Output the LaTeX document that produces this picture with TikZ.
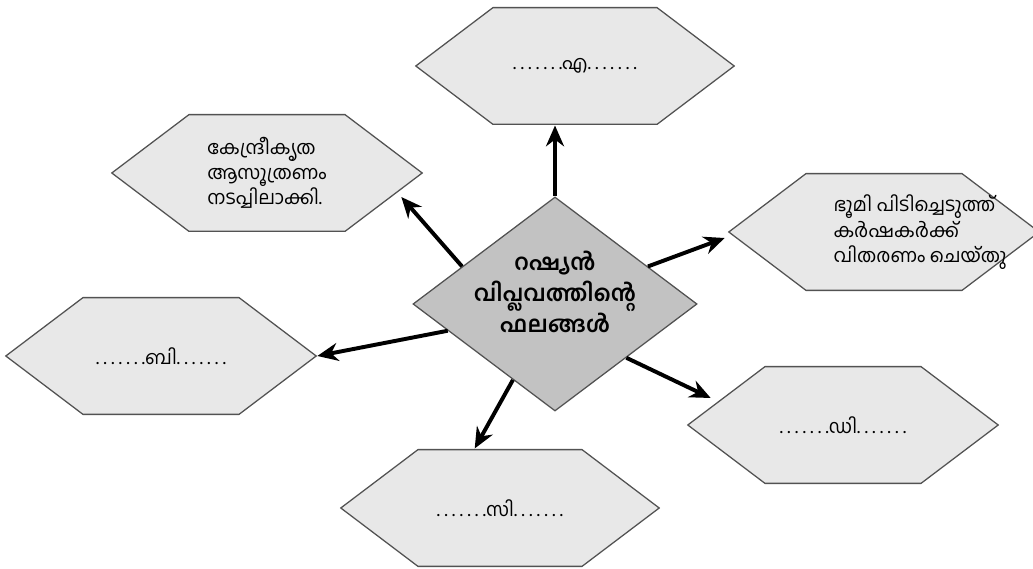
\documentclass[tikz,border=0pt]{standalone}
\usepackage{fontspec}
\usepackage{tikz}
\usepackage{xcolor}
\usetikzlibrary{shapes.geometric,arrows.meta}
\newfontfamily\malfont[Script=Malayalam]{Hind Kochi}
\definecolor{hexfill}{gray}{0.91}
\definecolor{diafill}{gray}{0.76}
\definecolor{edgegray}{gray}{0.32}
\newcommand{\dotrun}{.\kern3.2pt.\kern3.2pt.\kern3.2pt.\kern3.2pt.\kern3.2pt.\kern3.2pt.}
\tikzset{
	hexbox/.style={rectangle, inner sep=0pt, minimum width=7.8cm, minimum height=2.96cm,
		font=\malfont\fontsize{13.5}{17.8}\selectfont,
		path picture={
			\draw[draw=edgegray, fill=hexfill, line width=0.9pt]
				([xshift=0.6pt]path picture bounding box.west)
				-- ([shift={(1.95cm,-0.6pt)}]path picture bounding box.north west)
				-- ([shift={(-1.95cm,-0.6pt)}]path picture bounding box.north east)
				-- ([xshift=-0.6pt]path picture bounding box.east)
				-- ([shift={(-1.95cm,0.6pt)}]path picture bounding box.south east)
				-- ([shift={(1.95cm,0.6pt)}]path picture bounding box.south west)
				-- cycle;
		}},
	dotlbl/.style={font=\malfont\fontsize{13.5}{16}\selectfont},
	centerbox/.style={diamond, draw=edgegray, fill=diafill, line width=0.9pt, inner sep=-12pt,
		aspect=1.33, minimum width=7.1cm, minimum height=5.35cm, align=center,
		font=\malfont\bfseries\fontsize{16}{22}\selectfont},
	arr/.style={line width=2.8pt, -{Stealth[length=0.52cm,width=0.45cm]}}
}
\begin{document}
\begin{tikzpicture}[x=0.025cm, y=-0.025cm]
	\useasboundingbox (0,0) rectangle (1033,569);
	\node[centerbox] (res) at (555,304) {റഷ്യൻ\\വിപ്ലവത്തിന്റെ\\ഫലങ്ങൾ\\[-5pt]\mbox{}};
	\foreach \name/\x/\y/\hw/\lbl in {ea/575/66/8.0/എ, bi/161/356/7.8/ബി, si/500/508/8.0/സി, di/843/425/7.8/ഡി} {
		\node[hexbox, dotlbl, minimum width=\hw cm] (\name) at (\x,\y) {\dotrun\lbl\dotrun};
	};
	\node[hexbox, align=left] (kp) at (267,173) {കേന്ദ്രീകൃത\\ആസൂത്രണം\\നടപ്പിലാക്കി.};
	\node[hexbox] (rb) at (884,232) {\hspace*{1.8cm}\begin{tabular}{@{}l@{}}ഭൂമി പിടിച്ചെടുത്ത്\\കർഷകർക്ക്\\വിതരണം ചെയ്തു\end{tabular}};
	\draw[arr] (res.north) -- (res.north |- ea.south);
	\draw[arr] (res.158) -- ([shift={(-22,24)}]kp.east);
	\draw[arr] (res.22) -- ([shift={(-3,6)}]rb.west);
	\draw[arr] (res.194) -- (bi.east);
	\draw[arr] (res.241) -- ([xshift=-18]si.north);
	\draw[arr] (res.323) -- ([shift={(24,-27)}]di.west);
\end{tikzpicture}
\end{document}
